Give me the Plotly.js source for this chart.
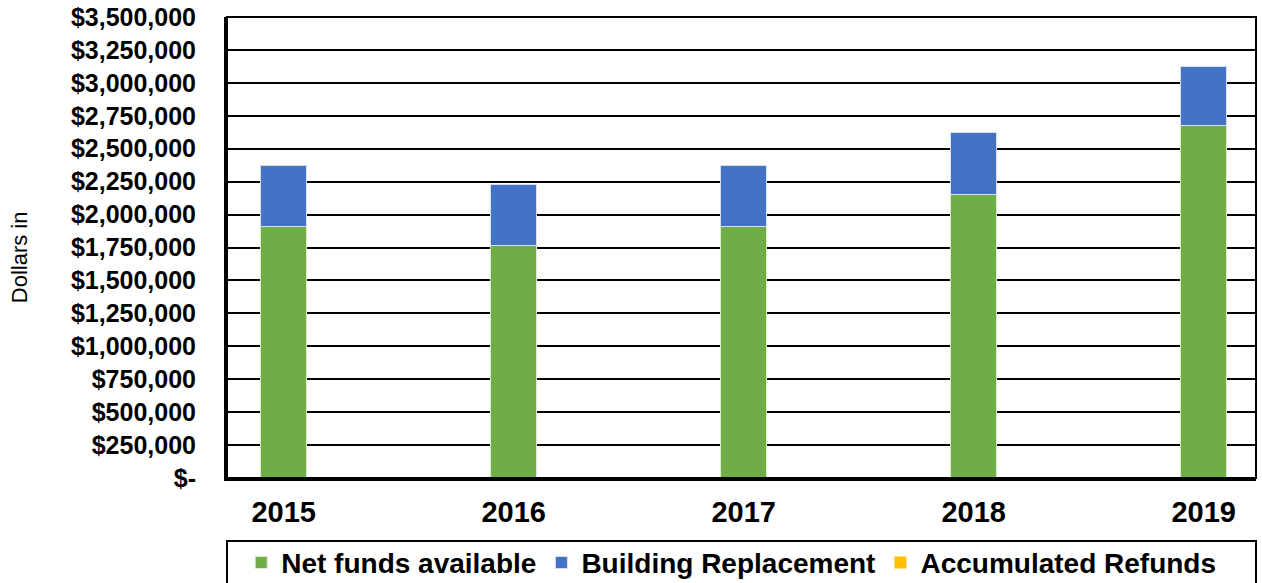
<!DOCTYPE html>
<html>
<head>
<meta charset="utf-8">
<script src="https://cdn.plot.ly/plotly-3.0.1.min.js"></script>
<style>html,body{margin:0;padding:0;background:#fff;}#chart{width:1262px;height:583px;}</style>
</head>
<body>
<div id="chart"></div>
<script>
const years = ['2015', '2016', '2017', '2018', '2019'];
const netFunds = [1908000, 1764000, 1908000, 2156000, 2680000];
const buildingReplacement = [461000, 461000, 461000, 468000, 445000];
const accumulatedRefunds = [0, 0, 0, 0, 0];
const tickValues = [0, 250000, 500000, 750000, 1000000, 1250000, 1500000, 1750000, 2000000, 2250000, 2500000, 2750000, 3000000, 3250000, 3500000];
const tickLabels = ['$-', '$250,000', '$500,000', '$750,000', '$1,000,000', '$1,250,000', '$1,500,000', '$1,750,000', '$2,000,000', '$2,250,000', '$2,500,000', '$2,750,000', '$3,000,000', '$3,250,000', '$3,500,000'];

const FONT = 'Arial, "Liberation Sans", sans-serif';

const traces = [
  {type: 'bar', name: 'Net funds available', x: years, y: netFunds, marker: {color: '#70AD47', line: {color: '#DDEBD3', width: 1}}},
  {type: 'bar', name: 'Building Replacement', x: years, y: buildingReplacement, marker: {color: '#4472C4', line: {color: '#D6E0F2', width: 1}}},
  {type: 'bar', name: 'Accumulated Refunds', x: years, y: accumulatedRefunds, marker: {color: '#FFC000'}}
];

const layout = {
  width: 1262, height: 583,
  margin: {l: 227, r: 6, t: 17, b: 105, autoexpand: false},
  paper_bgcolor: '#fff', plot_bgcolor: '#fff',
  barmode: 'stack', bargap: 0.8,
  font: {family: FONT, color: '#000'},
  showlegend: true,
  legend: {orientation: 'h', x: 0.49, xanchor: 'center', y: -0.184, yanchor: 'middle',
           font: {family: FONT, size: 28, color: '#000', weight: 'bold'}, bgcolor: 'rgba(0,0,0,0)', traceorder: 'normal'},
  xaxis: {type: 'category', range: [-0.2465, 4.2275], showgrid: false, zeroline: false,
          showline: true, linecolor: '#000', linewidth: 3, ticks: '', ticklabelstandoff: 6,
          tickfont: {family: FONT, size: 29, color: '#000', weight: 'bold'}, fixedrange: true},
  yaxis: {range: [0, 3500000], tickvals: tickValues, ticktext: tickLabels,
          showgrid: true, gridcolor: '#000', gridwidth: 2, zeroline: false,
          showline: true, linecolor: '#000', linewidth: 3, ticks: '', ticklabelstandoff: 23,
          tickfont: {family: FONT, size: 25, color: '#000', weight: 'bold'}, fixedrange: true},
  shapes: [
    {type: 'rect', xref: 'paper', yref: 'paper', x0: 0, x1: 1, y0: 0, y1: 1, line: {color: '#000', width: 2}, layer: 'above'},
    {type: 'rect', xref: 'paper', yref: 'paper', x0: 0, x1: 1, y0: -0.1367, y1: -0.30, line: {color: '#000', width: 2}}
  ],
  annotations: [
    {text: 'Dollars in', xref: 'paper', yref: 'paper', x: -0.2021, y: 0.479, textangle: -90, showarrow: false,
     xanchor: 'center', yanchor: 'middle', font: {family: FONT, size: 22, color: '#000'}}
  ]
};

Plotly.newPlot('chart', traces, layout, {displayModeBar: false, staticPlot: true});
</script>
</body>
</html>
